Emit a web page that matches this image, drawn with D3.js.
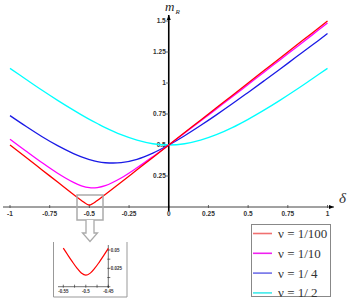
<!DOCTYPE html>
<html>
<head>
<meta charset="utf-8">
<script src="https://cdn.jsdelivr.net/npm/d3@7"></script>
<style>
  body { margin: 0; background: #fff; }
  svg { display: block; }
  .tick-label { font-family: "Liberation Sans", Arial, sans-serif; font-weight: bold; fill: #333; }
</style>
</head>
<body>
<div id="chart"></div>
<script>
// delta values (x) shared by all curves
const delta = [-1, -0.9, -0.8, -0.7, -0.6, -0.55, -0.5, -0.45, -0.4, -0.3, -0.2, -0.1, 0,
  0.1, 0.2, 0.3, 0.4, 0.5, 0.6, 0.7, 0.8, 0.9, 1];

// m_R for each nu
const mR_100 = [0.500, 0.401, 0.301, 0.201, 0.101, 0.053, 0.016, 0.052, 0.101, 0.200, 0.300, 0.400, 0.500,
  0.600, 0.700, 0.800, 0.900, 1.000, 1.100, 1.200, 1.300, 1.400, 1.500];
const mR_10 = [0.547, 0.452, 0.359, 0.272, 0.198, 0.171, 0.156, 0.157, 0.172, 0.234, 0.316, 0.406, 0.500,
  0.596, 0.693, 0.791, 0.889, 0.988, 1.087, 1.186, 1.285, 1.384, 1.484];
const mR_4 = [0.737, 0.651, 0.569, 0.495, 0.431, 0.404, 0.383, 0.366, 0.357, 0.358, 0.385, 0.435, 0.500,
  0.575, 0.657, 0.743, 0.832, 0.924, 1.017, 1.111, 1.207, 1.302, 1.399];
const mR_2 = [1.118, 1.030, 0.943, 0.860, 0.781, 0.743, 0.707, 0.673, 0.640, 0.583, 0.539, 0.510, 0.500,
  0.510, 0.539, 0.583, 0.640, 0.707, 0.781, 0.860, 0.943, 1.030, 1.118];

const seriesNames = ["ν = 1/100", "ν = 1/10", "ν = 1/ 4", "ν = 1/ 2"];
const seriesColors = ["#ff0000", "#ff00ff", "#1a1ae6", "#00ffff"];
const legendColors = ["#f07070", "#f020f0", "#7070e8", "#40eaea"];
const seriesValues = [mR_100, mR_10, mR_4, mR_2];

const xTicks = [-1, -0.75, -0.5, -0.25, 0, 0.25, 0.5, 0.75, 1];
const xTickLabels = ["-1", "-0.75", "-0.5", "-0.25", "0", "0.25", "0.5", "0.75", "1"];
const yTicks = [0.25, 0.5, 0.75, 1, 1.25, 1.5];
const yTickLabels = ["0.25", "0.5", "0.75", "1", "1.25", "1.5"];

// zoomed view near delta = -0.5
const insetDelta = [-0.55, -0.54, -0.53, -0.52, -0.51, -0.5, -0.49, -0.48, -0.47, -0.46, -0.45];
const insetRed = [0.0526, 0.0432, 0.0341, 0.0256, 0.0187, 0.0157, 0.0185, 0.0252, 0.0336, 0.0427, 0.0522];
const insetXTicks = [-0.55, -0.525, -0.5, -0.475, -0.45];
const insetXLabels = {"-0.55": "-0.55", "-0.5": "-0.5", "-0.45": "-0.45"};
const insetYTicks = [0, 0.0125, 0.025, 0.0375, 0.05];
const insetYLabels = {"0.025": "0.025", "0.05": "0.05"};

const width = 355, height = 299;
const svg = d3.select("#chart").append("svg")
  .attr("width", width)
  .attr("height", height);

const x = d3.scaleLinear().domain([-1, 1]).range([10, 327.5]);
const y = d3.scaleLinear().domain([0, 1.5]).range([207, 21]);

svg.append("defs").append("marker")
  .attr("id", "arr")
  .attr("viewBox", "0 0 10 10")
  .attr("refX", 10).attr("refY", 5)
  .attr("markerWidth", 5).attr("markerHeight", 5)
  .attr("markerUnits", "userSpaceOnUse")
  .attr("orient", "auto")
  .append("path").attr("d", "M0,1 L10,5 L0,9 Z").attr("fill", "#000");

// x axis
svg.append("line")
  .attr("x1", 3).attr("x2", 334)
  .attr("y1", y(0)).attr("y2", y(0))
  .attr("stroke", "#444").attr("stroke-width", 1)
  .attr("marker-end", "url(#arr)");

svg.selectAll(".xt").data(xTicks).enter().append("line")
  .attr("x1", d => x(d)).attr("x2", d => x(d))
  .attr("y1", y(0) - 2).attr("y2", y(0) + 1)
  .attr("stroke", "#444").attr("stroke-width", 0.8);

svg.selectAll(".xl").data(xTicks).enter().append("text")
  .attr("class", "tick-label")
  .attr("x", d => x(d)).attr("y", y(0) + 9)
  .attr("text-anchor", "middle")
  .attr("font-size", 6.5)
  .text((d, i) => xTickLabels[i]);

// y axis
svg.append("line")
  .attr("x1", x(0)).attr("x2", x(0))
  .attr("y1", 211).attr("y2", 15)
  .attr("stroke", "#000").attr("stroke-width", 1.6)
  .attr("marker-end", "url(#arr)");

svg.selectAll(".yt").data(yTicks).enter().append("line")
  .attr("x1", x(0) - 3).attr("x2", x(0))
  .attr("y1", d => y(d)).attr("y2", d => y(d))
  .attr("stroke", "#444").attr("stroke-width", 0.8);

svg.selectAll(".yl").data(yTicks).enter().append("text")
  .attr("class", "tick-label")
  .attr("x", x(0) - 3).attr("y", d => y(d) + 2.3)
  .attr("text-anchor", "end")
  .attr("font-size", 6.5)
  .text((d, i) => yTickLabels[i]);

// axis titles
const mt = svg.append("text")
  .attr("x", 165).attr("y", 11)
  .attr("font-family", "'Liberation Serif', 'DejaVu Serif', serif")
  .attr("font-style", "italic")
  .attr("fill", "#222");
mt.append("tspan").attr("font-size", 13).text("m");
mt.append("tspan").attr("font-size", 7).attr("dy", 3).attr("dx", 1).text("R");

svg.append("text")
  .attr("x", 339).attr("y", 203)
  .attr("font-family", "'Liberation Serif', serif")
  .attr("font-style", "italic")
  .attr("font-size", 15)
  .attr("fill", "#333")
  .text("δ");

// curves: red keeps its sharp corner, the others are smooth
const lineSharp = d3.line()
  .x((d, i) => x(delta[i]))
  .y(d => y(d))
  .curve(d3.curveMonotoneX);
const lineSmooth = d3.line()
  .x((d, i) => x(delta[i]))
  .y(d => y(d))
  .curve(d3.curveCatmullRom.alpha(0.5));

// draw cyan first so red ends on top
for (let k = seriesValues.length - 1; k >= 0; k--) {
  svg.append("path")
    .datum(seriesValues[k])
    .attr("d", k === 0 ? lineSharp : lineSmooth)
    .attr("fill", "none")
    .attr("stroke", seriesColors[k])
    .attr("stroke-width", 1.3);
}

// zoom box + arrow
svg.append("rect")
  .attr("x", 77).attr("y", 195)
  .attr("width", 26).attr("height", 25)
  .attr("fill", "none")
  .attr("stroke", "#aaa").attr("stroke-width", 1.5);

const ax = 90;
svg.append("path")
  .attr("d", `M${ax - 4},220 L${ax - 4},233 L${ax - 7.5},233 L${ax},241.5 L${ax + 7.5},233 L${ax + 4},233 L${ax + 4},220`)
  .attr("fill", "#fff")
  .attr("stroke", "#aaa").attr("stroke-width", 1.3);

// inset frame (open on top)
svg.append("path")
  .attr("d", "M53.5,242 L53.5,297 L127,297 L127,242")
  .attr("fill", "none")
  .attr("stroke", "#999").attr("stroke-width", 1);

const ix = d3.scaleLinear().domain([-0.55, -0.45]).range([63.3, 108.3]);
const iy = d3.scaleLinear().domain([0, 0.05]).range([286.7, 250]);

svg.append("line")
  .attr("x1", 58).attr("x2", 109)
  .attr("y1", iy(0)).attr("y2", iy(0))
  .attr("stroke", "#333").attr("stroke-width", 0.7);
svg.append("line")
  .attr("x1", ix(-0.45)).attr("x2", ix(-0.45))
  .attr("y1", 288).attr("y2", 245)
  .attr("stroke", "#333").attr("stroke-width", 0.7);

svg.selectAll(".ixt").data(insetXTicks).enter().append("line")
  .attr("x1", d => ix(d)).attr("x2", d => ix(d))
  .attr("y1", iy(0) - 2).attr("y2", iy(0) + 1)
  .attr("stroke", "#333").attr("stroke-width", 0.7);
svg.selectAll(".ixl").data(insetXTicks.filter(d => insetXLabels[d])).enter().append("text")
  .attr("class", "tick-label")
  .attr("x", d => ix(d)).attr("y", iy(0) + 6)
  .attr("text-anchor", "middle")
  .attr("font-size", 4.5)
  .attr("font-weight", "normal")
  .text(d => insetXLabels[d]);

svg.selectAll(".iyt").data(insetYTicks).enter().append("line")
  .attr("x1", ix(-0.45) - 1).attr("x2", ix(-0.45) + 2)
  .attr("y1", d => iy(d)).attr("y2", d => iy(d))
  .attr("stroke", "#333").attr("stroke-width", 0.7);
svg.selectAll(".iyl").data(insetYTicks.filter(d => insetYLabels[d])).enter().append("text")
  .attr("class", "tick-label")
  .attr("x", ix(-0.45) + 2.5).attr("y", d => iy(d) + 1.7)
  .attr("font-size", 4.5)
  .attr("font-weight", "normal")
  .text(d => insetYLabels[d]);

svg.append("path")
  .datum(insetRed)
  .attr("d", d3.line().x((d, i) => ix(insetDelta[i])).y(d => iy(d)).curve(d3.curveCatmullRom.alpha(0.5)))
  .attr("fill", "none")
  .attr("stroke", "#ff0000")
  .attr("stroke-width", 1.2);

// legend
svg.append("rect")
  .attr("x", 251.5).attr("y", 224.5)
  .attr("width", 79).attr("height", 72)
  .attr("fill", "#fff")
  .attr("stroke", "#888").attr("stroke-width", 1);

const leg = svg.selectAll(".leg").data(seriesNames).enter().append("g")
  .attr("transform", (d, i) => `translate(253, ${233.5 + i * 19.8})`);
leg.append("line")
  .attr("x1", 0).attr("x2", 19)
  .attr("stroke", (d, i) => legendColors[i])
  .attr("stroke-width", 1.6);
leg.append("text")
  .attr("x", 25).attr("y", 4.5)
  .attr("font-family", "'Liberation Serif', 'Times New Roman', serif")
  .attr("font-size", 13)
  .attr("fill", "#333")
  .text(d => d);
</script>
</body>
</html>
